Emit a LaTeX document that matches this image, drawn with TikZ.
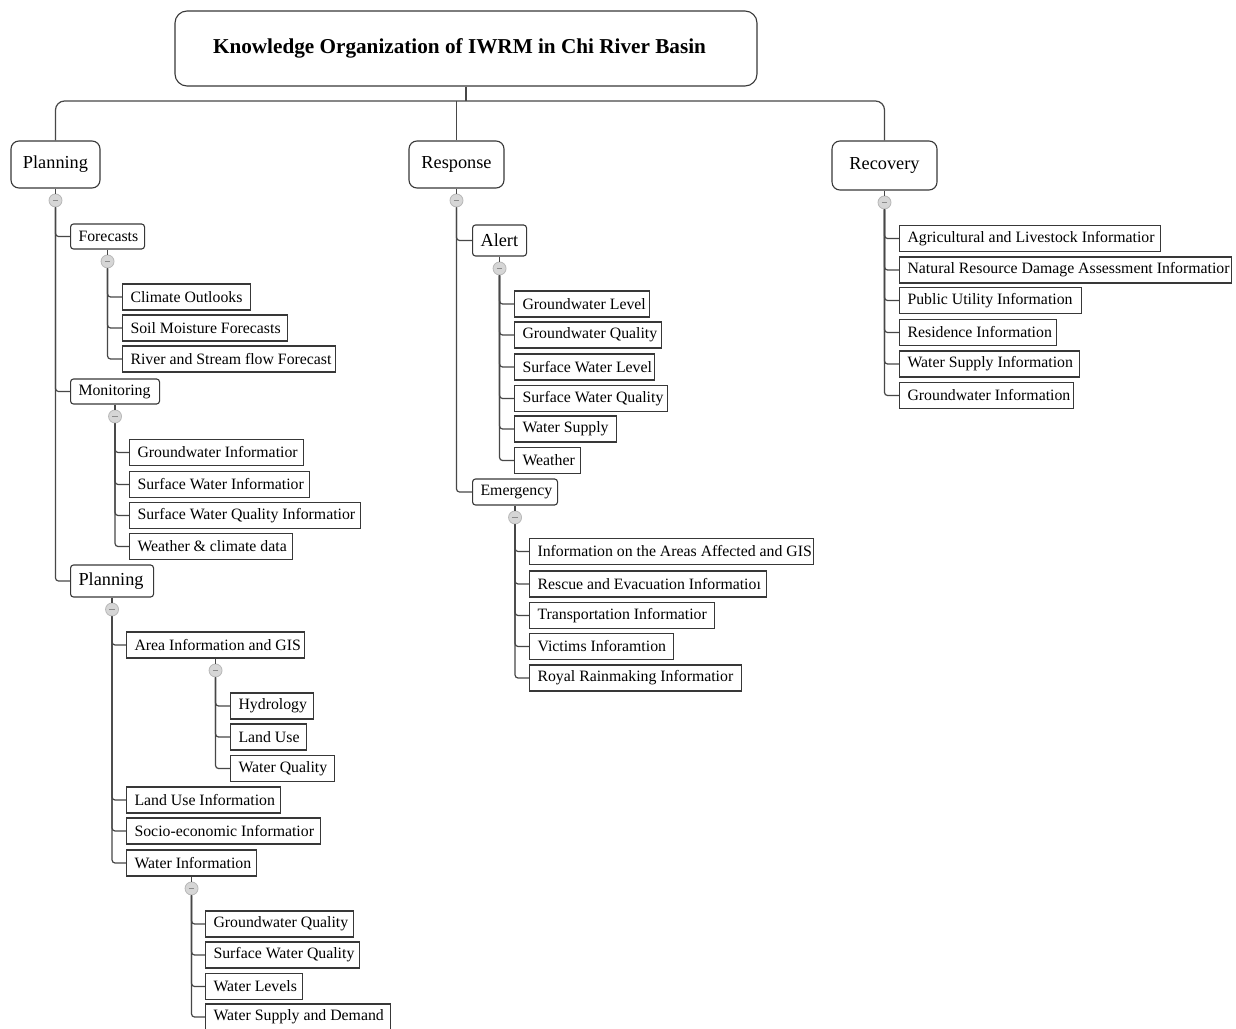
\documentclass[tikz,border=0pt]{standalone}
\usepackage{fontspec}
\setmainfont{Liberation Serif}
\usetikzlibrary{positioning}
\tikzset{
  conn/.style={draw=black!72, line width=1.2pt, rounded corners=3pt},
  boxline/.style={draw=black!78, line width=1.1pt, fill=white},
  leafbox/.style={boxline, inner xsep=0pt, inner ysep=0pt, minimum height=26pt, font=\fontsize{15.8}{18}\selectfont},
  midbox/.style={boxline, rounded corners=3pt, inner xsep=0pt, inner ysep=0pt, minimum height=25pt},
  topbox/.style={boxline, rounded corners=8pt, inner sep=0pt, font=\fontsize{18.3}{21}\selectfont},
  tog/.style={circle, fill=black!16, draw=black!28, line width=0.8pt, minimum size=13pt, inner sep=0pt,
    path picture={\draw[black!45, line width=0.9pt] ([xshift=-2.6pt]path picture bounding box.center) -- ([xshift=2.6pt]path picture bounding box.center);}},
}
\newcommand\lfbox[5]{\node[leafbox, anchor=west] (#1) at (#2,#3) {\makebox[#4pt][l]{\hspace{8pt}#5}};}
\newcommand\mdbox[7]{\node[midbox, anchor=west, minimum height=#6pt, font=\fontsize{#7}{20}\selectfont] (#1) at (#2,#3) {\makebox[#4pt][l]{\hspace{8pt}#5}};}
\begin{document}
\begin{tikzpicture}[x=1pt, y=-1pt]
\useasboundingbox[fill=white] (0,0) rectangle (1236,1028);

% title
\node[boxline, rounded corners=12pt, minimum width=582pt, minimum height=75pt, inner sep=0pt,
      font=\fontsize{21.2}{24}\selectfont\bfseries] (title) at (466,48.5) {\hspace*{-13pt}Knowledge Organization of IWRM in Chi River Basin};

% level 1
\node[topbox, minimum width=89pt, minimum height=47pt] (plan) at (55.5,164.5) {Planning};
\node[topbox, minimum width=95pt, minimum height=47pt] (resp) at (456.5,164.5) {Response};
\node[topbox, minimum width=105pt, minimum height=49pt] (recov) at (884.5,165.5) {Recovery};

\coordinate (trunk) at (466,101);
\draw[conn] (title.south) -- (trunk);
\draw[conn, rounded corners=9pt] (plan.north) |- (trunk) -| (recov.north);
\draw[conn] (resp.north) -- (resp.north |- trunk);

% ---------- Planning ----------
\node[tog, below=5pt of plan] (t1) {};
\draw[conn] (plan.south) -- (t1.north);
\mdbox{fc}{70}{236.5}{74}{Forecasts}{25}{15.8}
\mdbox{mon}{70}{391.5}{89}{Monitoring}{25}{15.8}
\mdbox{psub}{70}{581}{83}{Planning}{32}{18.3}
\foreach \c in {fc,mon,psub} \draw[conn] (t1.south) |- (\c.west);

\node[tog, below=5pt of fc] (t2) {};
\draw[conn] (fc.south) -- (t2.north);
\lfbox{co}{122}{297}{128}{Climate Outlooks}
\lfbox{sm}{122}{328}{165}{Soil Moisture Forecasts}
\lfbox{rs}{122}{359}{213}{River and Stream flow Forecast}
\foreach \c in {co,sm,rs} \draw[conn] (t2.south) |- (\c.west);

\node[tog, below=5pt of mon] (t3) {};
\draw[conn] (mon.south) -- (t3.north);
\lfbox{gi}{129}{452.5}{174}{Groundwater Informatior}
\lfbox{swi}{129}{484.5}{180}{Surface Water Informatior}
\lfbox{swqi}{129}{515.5}{231}{Surface Water Quality Informatior}
\lfbox{wcd}{129}{546.5}{163}{Weather \& climate data}
\foreach \c in {gi,swi,swqi,wcd} \draw[conn] (t3.south) |- (\c.west);

\node[tog, below=5pt of psub] (t4) {};
\draw[conn] (psub.south) -- (t4.north);
\lfbox{aig}{126}{645}{178}{Area Information and GIS}
\lfbox{lui}{126}{800}{154}{Land Use Information}
\lfbox{sei}{126}{831}{194}{Socio-economic Informatior}
\lfbox{wi}{126}{863}{130}{Water Information}
\foreach \c in {aig,lui,sei,wi} \draw[conn] (t4.south) |- (\c.west);

\node[tog, below=5pt of aig] (t5) {};
\draw[conn] (aig.south) -- (t5.north);
\lfbox{hyd}{230}{706}{83}{Hydrology}
\lfbox{lu}{230}{737}{76}{Land Use}
\lfbox{wq}{230}{768.5}{104}{Water Quality}
\foreach \c in {hyd,lu,wq} \draw[conn] (t5.south) |- (\c.west);

\node[tog, below=5pt of wi] (t6) {};
\draw[conn] (wi.south) -- (t6.north);
\lfbox{gwq}{205}{924}{148}{Groundwater Quality}
\lfbox{swq}{205}{955}{154}{Surface Water Quality}
\lfbox{wl}{205}{986.5}{97}{Water Levels}
\lfbox{wsd}{205}{1017}{185}{Water Supply and Demand}
\foreach \c in {gwq,swq,wl,wsd} \draw[conn] (t6.south) |- (\c.west);

% ---------- Response ----------
\node[tog, below=5pt of resp] (t7) {};
\draw[conn] (resp.south) -- (t7.north);
\mdbox{alert}{472}{240.5}{54}{Alert}{31}{18.3}
\mdbox{emerg}{472}{492}{85}{Emergency}{26}{15.8}
\foreach \c in {alert,emerg} \draw[conn] (t7.south) |- (\c.west);

\node[tog, below=5pt of alert] (t8) {};
\draw[conn] (alert.south) -- (t8.north);
\lfbox{agl}{514}{304}{135}{Groundwater Level}
\lfbox{agq}{514}{335}{147}{Groundwater Quality}
\lfbox{asl}{514}{367}{140}{Surface Water Level}
\lfbox{asq}{514}{398.5}{153}{Surface Water Quality}
\lfbox{aws}{514}{429}{102}{Water Supply}
\lfbox{awe}{514}{460.5}{66}{Weather}
\foreach \c in {agl,agq,asl,asq,aws,awe} \draw[conn] (t8.south) |- (\c.west);

\node[tog, below=5pt of emerg] (t9) {};
\draw[conn] (emerg.south) -- (t9.north);
\lfbox{eia}{529}{551.5}{284}{Information on the Areas Affected and GIS}
\lfbox{ere}{529}{584}{237}{Rescue and Evacuation Informatio\i}
\lfbox{etr}{529}{615.5}{185}{Transportation Informatior}
\lfbox{evi}{529}{646.5}{144}{Victims Inforamtion}
\lfbox{err}{529}{678}{212}{Royal Rainmaking Informatior}
\foreach \c in {eia,ere,etr,evi,err} \draw[conn] (t9.south) |- (\c.west);

% ---------- Recovery ----------
\node[tog, below=5pt of recov] (t10) {};
\draw[conn] (recov.south) -- (t10.north);
\lfbox{ral}{899}{238.5}{261}{Agricultural and Livestock Informatior}
\lfbox{rnr}{899}{270}{332}{Natural Resource Damage Assessment Informatior}
\lfbox{rpu}{899}{300.5}{182}{Public Utility Information}
\lfbox{rri}{899}{332.5}{157}{Residence Information}
\lfbox{rws}{899}{364}{180}{Water Supply Information}
\lfbox{rgi}{899}{395.5}{174}{Groundwater Information}
\foreach \c in {ral,rnr,rpu,rri,rws,rgi} \draw[conn] (t10.south) |- (\c.west);
\end{tikzpicture}
\end{document}
